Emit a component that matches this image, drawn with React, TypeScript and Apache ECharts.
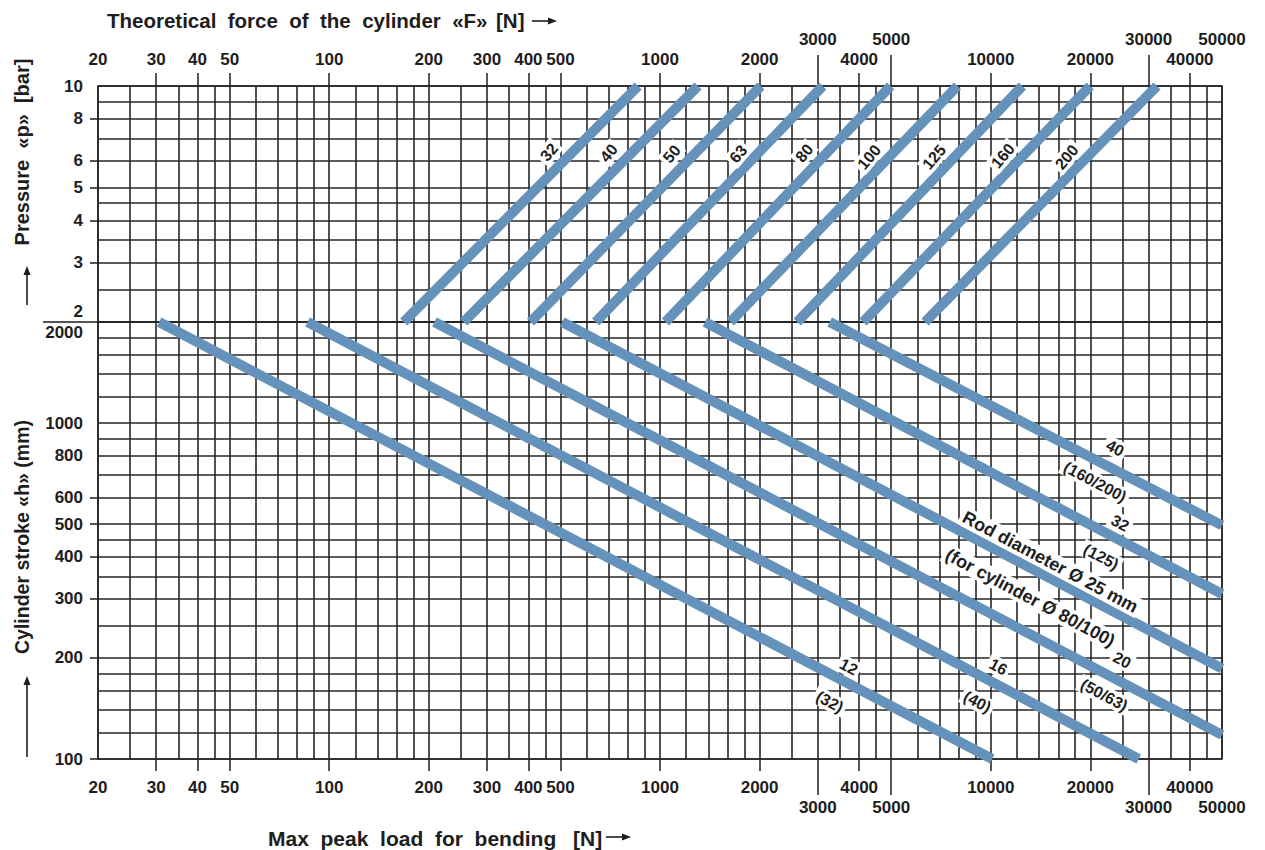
import React, { useEffect, useRef } from 'react';
import * as echarts from 'echarts';

// ---- grid / tick values ----
const forceGridValues = [20, 25, 30, 35, 40, 45, 50, 60, 70, 80, 90, 100, 120, 140, 160, 180, 200, 250, 300, 350, 400, 450, 500, 600, 700, 800, 900, 1000, 1200, 1400, 1600, 1800, 2000, 2500, 3000, 3500, 4000, 4500, 5000, 6000, 7000, 8000, 9000, 10000, 12000, 14000, 16000, 18000, 20000, 25000, 30000, 35000, 40000, 45000, 50000];
const pressureGridValues = [2, 2.5, 3, 3.5, 4, 4.5, 5, 6, 7, 8, 9, 10];
const strokeGridValues = [100, 120, 140, 160, 180, 200, 250, 300, 350, 400, 450, 500, 600, 700, 800, 900, 1000, 1200, 1400, 1600, 1800, 2000];

const forceLabelsMain = [20, 30, 40, 50, 100, 200, 300, 400, 500, 1000, 2000, 4000, 10000, 20000, 40000];
const forceTicksMain = [30, 40, 50, 100, 200, 300, 400, 500, 1000, 2000, 4000, 10000, 20000, 40000];
const forceLabelsOffset = [3000, 5000, 30000, 50000];
const forceTicksOffset = [3000, 5000, 30000];
const pressureLabels = [3, 4, 5, 6, 8, 10];
const pressureTicks = [3, 4, 5, 6, 8];
const strokeLabels = [100, 200, 300, 400, 500, 600, 800, 1000];
const strokeTicks = [100, 200, 300, 400, 500, 600];

// ---- cylinder bore lines (pressure 2..10 bar -> force) ----
const boreSizes = ['32', '40', '50', '63', '80', '100', '125', '160', '200'];
const forceAt2Bar = [168, 255, 406, 639, 1039, 1632, 2600, 4112, 6328];
const forceAt10Bar = [859, 1303, 2018, 3104, 4978, 7930, 12460, 19970, 31800];
const boreLabelForce = [462, 700, 1085, 1725, 2730, 4290, 6740, 10880, 16970];
const boreLabelPressure = [6.37, 6.33, 6.29, 6.29, 6.33, 6.16, 6.16, 6.21, 6.16];

// ---- rod buckling lines (stroke -> max load) ----
const rodText = ['12', '16', '20', 'Rod diameter Ø 25 mm', '32', '40'];
const cylText = ['(32)', '(40)', '(50/63)', '(for cylinder Ø 80/100)', '(125)', '(160/200)'];
const loadAt2000 = [30.6, 86, 208, 506, 1368, 3258];
const loadAtEnd = [10100, 28000, 50000, 50000, 50000, 50000];
const strokeAtEnd = [100, 100, 118, 186, 310, 496];
const rodLabelLoad = [3720, 10540, 24940, 15130, 24600, 23760];
const rodLabelStroke = [188, 188, 197, 386, 504, 843];
const cylLabelLoad = [3260, 9110, 22020, 13160, 21560, 20680];
const cylLabelStroke = [148, 148, 155, 302, 400, 668];

const FONT = '"Liberation Sans", Arial, Helvetica, sans-serif';
const INK = '#1d1d1d';
const GRIDLINE = '#262626';
const BLUE = '#6592ba';
const TICK_FONT = 17;

const fmt = (v: number) => String(Math.round(v));

function xAxisDef(gridIndex: number, position: string, extra: any) {
  return {
    type: 'log', logBase: 10, gridIndex, position, min: 20, max: 50000,
    axisLine: { show: false },
    axisTick: { show: false },
    axisLabel: { show: false },
    splitLine: { show: false },
    ...extra,
  };
}
function yAxisDef(gridIndex: number, min: number, max: number, extra: any) {
  return {
    type: 'log', logBase: 10, gridIndex, position: 'left', min, max,
    axisLine: { show: false },
    axisTick: { show: false },
    axisLabel: { show: false },
    splitLine: { show: false },
    ...extra,
  };
}
const labelStyle = { color: INK, fontFamily: FONT, fontWeight: 'bold', fontSize: TICK_FONT, formatter: fmt };
const tickStyle = { color: INK, width: 1.5 };
const splitStyle = { show: true, lineStyle: { color: GRIDLINE, width: 1.6 } };

function buildOption() {
  const xAxis = [
    xAxisDef(0, 'top', { axisTick: { show: false, customValues: forceGridValues }, splitLine: splitStyle }),
    xAxisDef(0, 'top', {
      axisTick: { show: true, customValues: forceTicksMain, length: 13, lineStyle: tickStyle },
      axisLabel: { show: true, customValues: forceLabelsMain, margin: 18, ...labelStyle },
    }),
    xAxisDef(0, 'top', {
      axisTick: { show: true, customValues: forceTicksOffset, length: 31, lineStyle: tickStyle },
      axisLabel: { show: true, customValues: forceLabelsOffset, margin: 38, ...labelStyle },
    }),
    xAxisDef(1, 'bottom', { axisTick: { show: false, customValues: forceGridValues }, splitLine: splitStyle }),
    xAxisDef(1, 'bottom', {
      axisTick: { show: true, customValues: forceTicksMain, length: 12, lineStyle: tickStyle },
      axisLabel: { show: true, customValues: forceLabelsMain, margin: 20, ...labelStyle },
    }),
    xAxisDef(1, 'bottom', {
      axisTick: { show: true, customValues: forceTicksOffset, length: 36, lineStyle: tickStyle },
      axisLabel: { show: true, customValues: forceLabelsOffset, margin: 40, ...labelStyle },
    }),
  ];
  const yAxis = [
    yAxisDef(0, 2, 10, { axisTick: { show: false, customValues: pressureGridValues }, splitLine: splitStyle }),
    yAxisDef(0, 2, 10, {
      axisTick: { show: true, customValues: pressureTicks, length: 8, lineStyle: tickStyle },
      axisLabel: { show: true, customValues: pressureLabels, margin: 15, ...labelStyle },
    }),
    yAxisDef(0, 2, 10, {
      axisTick: { show: true, customValues: [2], length: 55, lineStyle: tickStyle },
      axisLabel: { show: true, customValues: [2], margin: 15, verticalAlign: 'bottom', padding: [0, 0, 2, 0], ...labelStyle },
    }),
    yAxisDef(1, 100, 2000, { axisTick: { show: false, customValues: strokeGridValues }, splitLine: splitStyle }),
    yAxisDef(1, 100, 2000, {
      axisTick: { show: true, customValues: strokeTicks, length: 8, lineStyle: tickStyle },
      axisLabel: { show: true, customValues: strokeLabels, margin: 15, ...labelStyle },
    }),
    yAxisDef(1, 100, 2000, {
      axisLabel: { show: true, customValues: [2000], margin: 15, verticalAlign: 'top', padding: [2, 0, 0, 0], ...labelStyle },
    }),
  ];

  const markLabel = (text: string, rotate: number, size: number) => ({
    show: true, position: 'inside', formatter: text, rotate,
    color: INK, fontFamily: FONT, fontWeight: 'bold', fontSize: size,
    backgroundColor: '#ffffff', padding: [1, 3],
  });

  const series: any[] = [];
  boreSizes.forEach((b, i) => {
    series.push({
      type: 'line', name: 'Ø' + b, xAxisIndex: 0, yAxisIndex: 0, silent: true, symbol: 'none', clip: true, z: 3,
      data: [[forceAt2Bar[i], 2], [forceAt10Bar[i], 10]],
      lineStyle: { color: BLUE, width: 10, cap: 'butt' },
      markPoint: {
        silent: true, symbol: 'rect', symbolSize: 1, itemStyle: { color: 'rgba(0,0,0,0)' },
        data: [{ coord: [boreLabelForce[i], boreLabelPressure[i]], label: markLabel(b, 50, 16) }],
      },
    });
  });
  rodText.forEach((r, i) => {
    const big = r.length > 4;
    series.push({
      type: 'line', name: 'rod' + i, xAxisIndex: 3, yAxisIndex: 3, silent: true, symbol: 'none', clip: true, z: 3,
      data: [[loadAt2000[i], 2000], [loadAtEnd[i], strokeAtEnd[i]]],
      lineStyle: { color: BLUE, width: 10, cap: 'butt' },
      markPoint: {
        silent: true, symbol: 'rect', symbolSize: 1, itemStyle: { color: 'rgba(0,0,0,0)' },
        data: [
          { coord: [rodLabelLoad[i], rodLabelStroke[i]], label: markLabel(r, -28, big ? 18 : 16) },
          { coord: [cylLabelLoad[i], cylLabelStroke[i]], label: markLabel(cylText[i], -28, big ? 18 : 16) },
        ],
      },
    });
  });

  const titleFont = (s: number) => 'bold ' + s + 'px ' + FONT;
  const arrow = (x1: number, y1: number, x2: number, y2: number) => {
    const dx = x2 - x1, dy = y2 - y1;
    const len = Math.sqrt(dx * dx + dy * dy);
    const ux = dx / len, uy = dy / len;
    const hx = x2 - ux * 9, hy = y2 - uy * 9;
    return [
      { type: 'line', shape: { x1, y1, x2: hx, y2: hy }, style: { stroke: INK, lineWidth: 1.6 } },
      { type: 'polygon', shape: { points: [[x2, y2], [hx - uy * 3.5, hy + ux * 3.5], [hx + uy * 3.5, hy - ux * 3.5]] }, style: { fill: INK } },
    ];
  };
  const txt = (text: string, x: number, y: number, size: number, extra: any = {}) => ({
    type: 'text', x, y, ...extra,
    style: { text, font: titleFont(size), fill: INK, textAlign: extra.rotation ? 'center' : 'left', textVerticalAlign: 'middle' },
  });

  const graphic = [
    txt('Theoretical  force  of  the  cylinder  «F»', 107, 20, 20.5),
    txt('[N]', 496, 20, 20.5),
    ...arrow(532, 21, 557, 21),
    txt('Max  peak  load  for  bending', 268, 838, 21),
    txt('[N]', 573, 838, 21),
    ...arrow(606, 837, 631, 837),
    txt('Pressure  «p»  [bar]', 22, 152, 20, { rotation: Math.PI / 2 }),
    ...arrow(27, 305, 27, 266),
    txt('Cylinder stroke «h» (mm)', 22, 537, 19.5, { rotation: Math.PI / 2 }),
    ...arrow(27, 757, 27, 676),
  ];

  return {
    animation: false,
    backgroundColor: '#ffffff',
    grid: [
      { left: 98, right: 43, top: 86, height: 236, show: true, borderColor: GRIDLINE, borderWidth: 1.6, backgroundColor: 'transparent' },
      { left: 98, right: 43, top: 322, height: 437, show: true, borderColor: GRIDLINE, borderWidth: 1.6, backgroundColor: 'transparent' },
    ],
    xAxis,
    yAxis,
    series,
    graphic,
  };
}

export default function App() {
  const ref = useRef<HTMLDivElement>(null);
  useEffect(() => {
    if (!ref.current) return;
    const chart = echarts.init(ref.current, null, { renderer: 'svg' });
    chart.setOption(buildOption() as any);
    return () => chart.dispose();
  }, []);
  return (
    <div
      ref={ref}
      style={{ position: 'absolute', left: 0, top: 0, width: 1265, height: 850, background: '#fff' }}
    />
  );
}
